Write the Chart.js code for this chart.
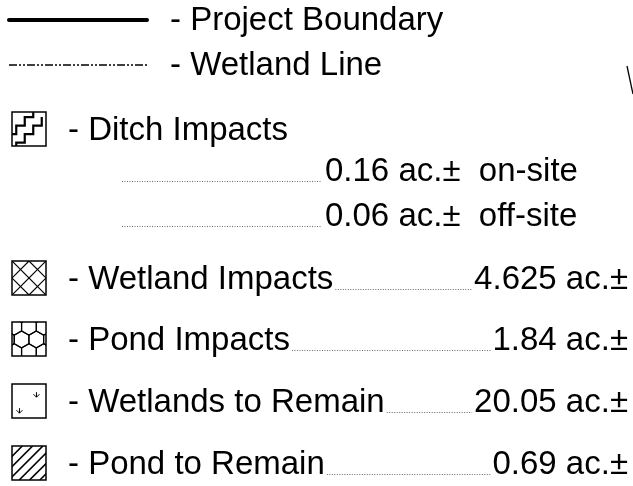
<!DOCTYPE html>
<html>
<head>
<meta charset="utf-8">
<script src="https://cdn.jsdelivr.net/npm/chart.js@4/dist/chart.umd.min.js"></script>
<style>
  html, body { margin: 0; padding: 0; background: #fff; }
</style>
</head>
<body>
<canvas id="myChart" width="633" height="486"></canvas>
<script>
// legend entries and acreages
const lineLabels = ['Project Boundary', 'Wetland Line']
const areaLabels = ['Ditch Impacts', 'Wetland Impacts', 'Pond Impacts', 'Wetlands to Remain', 'Pond to Remain']
const ditchParts = ['on-site', 'off-site']
const ditchAcres = [0.16, 0.06]
const areaAcres = [null, 4.625, 1.84, 20.05, 0.69]
const unitText = 'ac.±'

// layout (scale units = pixels of the sheet, y counted from top)
const lineRowsY = [30, 75]
const areaRowsY = [140, 289, 350, 412, 474]
const ditchRowsY = [181, 226]
const swatchKinds = ['ditch', 'cross', 'hex', 'marsh', 'hatch']

const FONT = '33px "Liberation Sans", Arial, sans-serif'

const drawSwatch = (ctx, kind, x, y, s) => {
  ctx.save()
  ctx.beginPath()
  ctx.rect(x, y, s, s)
  ctx.clip()
  ctx.strokeStyle = '#000'
  if (kind === 'ditch') {
    ctx.lineWidth = 2.2
    const u = s / 4
    const stairs = off => {
      ctx.beginPath()
      ctx.moveTo(x - u, y + off + 2 * u)
      ctx.lineTo(x + 0.5 * u, y + off + 2 * u)
      ctx.lineTo(x + 0.5 * u, y + off + u)
      ctx.lineTo(x + 1.5 * u, y + off + u)
      ctx.lineTo(x + 1.5 * u, y + off)
      ctx.lineTo(x + 2.5 * u, y + off)
      ctx.lineTo(x + 2.5 * u, y + off - u)
      ctx.lineTo(x + 3.5 * u, y + off - u)
      ctx.lineTo(x + 3.5 * u, y + off - 2 * u)
      ctx.stroke()
    }
    stairs(0.6 * u)
    stairs(2.6 * u)
  } else if (kind === 'cross') {
    ctx.lineWidth = 1.2
    const h = s / 2
    for (let c = -s; c <= s; c += h) {
      ctx.beginPath()
      ctx.moveTo(x + c, y)
      ctx.lineTo(x + c + s, y + s)
      ctx.stroke()
      ctx.beginPath()
      ctx.moveTo(x + s - c, y)
      ctx.lineTo(x - c, y + s)
      ctx.stroke()
    }
  } else if (kind === 'hex') {
    ctx.lineWidth = 1.2
    const r = s / 4
    const w = Math.sqrt(3) * r
    for (let row = -1; row < 4; row++) {
      for (let col = -1; col < 4; col++) {
        const cx = x + col * w + (row % 2 ? w / 2 : 0) + w * 0.15
        const cy = y + row * 1.5 * r + r * 0.55
        ctx.beginPath()
        for (let k = 0; k < 6; k++) {
          const a = Math.PI / 6 + k * Math.PI / 3
          const px = cx + r * Math.cos(a)
          const py = cy + r * Math.sin(a)
          if (k === 0) ctx.moveTo(px, py)
          else ctx.lineTo(px, py)
        }
        ctx.closePath()
        ctx.stroke()
      }
    }
  } else if (kind === 'marsh') {
    ctx.lineWidth = 1
    const tuft = (tx, ty) => {
      ctx.beginPath()
      ctx.moveTo(tx - 3, ty)
      ctx.lineTo(tx, ty + 3)
      ctx.lineTo(tx + 3, ty)
      ctx.moveTo(tx, ty - 2)
      ctx.lineTo(tx, ty + 3)
      ctx.stroke()
    }
    tuft(x + s * 0.72, y + s * 0.3)
    tuft(x + s * 0.22, y + s * 0.77)
  } else if (kind === 'hatch') {
    ctx.lineWidth = 1.6
    const gap = s / 3.3
    for (let c = -s; c <= 2 * s; c += gap) {
      ctx.beginPath()
      ctx.moveTo(x + c, y + s)
      ctx.lineTo(x + c + s, y)
      ctx.stroke()
    }
  }
  ctx.restore()
  ctx.lineWidth = 1.5
  ctx.strokeStyle = '#000'
  ctx.strokeRect(x, y, s, s)
}

const leader = (ctx, x1, x2, y) => {
  ctx.save()
  ctx.strokeStyle = '#666'
  ctx.lineWidth = 1
  ctx.setLineDash([1, 1.5])
  ctx.beginPath()
  ctx.moveTo(x1, y + 0.5)
  ctx.lineTo(x2, y + 0.5)
  ctx.stroke()
  ctx.restore()
}

const legendSheet = {
  id: 'legendSheet',
  afterDraw(chart) {
    const { ctx, scales } = chart
    const X = v => scales.x.getPixelForValue(v)
    const Y = v => scales.y.getPixelForValue(v)
    ctx.save()
    ctx.font = FONT
    ctx.fillStyle = '#000'
    ctx.textBaseline = 'alphabetic'

    // line symbols
    lineLabels.forEach((label, i) => {
      const y = Y(lineRowsY[i] - 10)
      ctx.save()
      ctx.strokeStyle = '#000'
      if (i === 0) {
        ctx.lineWidth = 4
        ctx.lineCap = 'round'
      } else {
        ctx.lineWidth = 1.3
        ctx.setLineDash([8, 2, 2, 2, 2, 2])
      }
      ctx.beginPath()
      ctx.moveTo(X(9), y)
      ctx.lineTo(X(147), y)
      ctx.stroke()
      ctx.restore()
      ctx.fillText('- ' + label, X(170), Y(lineRowsY[i]))
    })

    // area symbols
    areaLabels.forEach((label, i) => {
      const base = Y(areaRowsY[i])
      drawSwatch(ctx, swatchKinds[i], X(12), base - 28, 34)
      const text = '- ' + label
      const tx = X(68)
      ctx.textAlign = 'left'
      ctx.fillText(text, tx, base)
      if (areaAcres[i] !== null) {
        const val = String(areaAcres[i]) + ' ' + unitText
        const right = X(628)
        const vw = ctx.measureText(val).width
        leader(ctx, tx + ctx.measureText(text).width + 2, right - vw - 2, base)
        ctx.fillText(val, right - vw, base)
      }
    })

    // ditch breakdown
    ditchParts.forEach((part, i) => {
      const base = Y(ditchRowsY[i])
      leader(ctx, X(122), X(322), base)
      ctx.fillText(String(ditchAcres[i]) + ' ' + unitText + '  ' + part, X(325), base)
    })

    // stray plan linework at the sheet edge
    ctx.strokeStyle = '#000'
    ctx.lineWidth = 1.3
    ctx.beginPath()
    ctx.moveTo(X(627), Y(66))
    ctx.lineTo(X(633), Y(94))
    ctx.stroke()
    ctx.restore()
  }
}

const config = {
  type: 'scatter',
  data: { datasets: [] },
  options: {
    responsive: false,
    animation: false,
    devicePixelRatio: 1,
    layout: { padding: 0 },
    plugins: { legend: { display: false }, tooltip: { enabled: false } },
    scales: {
      x: { type: 'linear', min: 0, max: 633, display: false },
      y: { type: 'linear', min: 0, max: 486, reverse: true, display: false }
    }
  },
  plugins: [legendSheet]
}

const myChart = new Chart(document.getElementById('myChart'), config)
</script>
</body>
</html>
